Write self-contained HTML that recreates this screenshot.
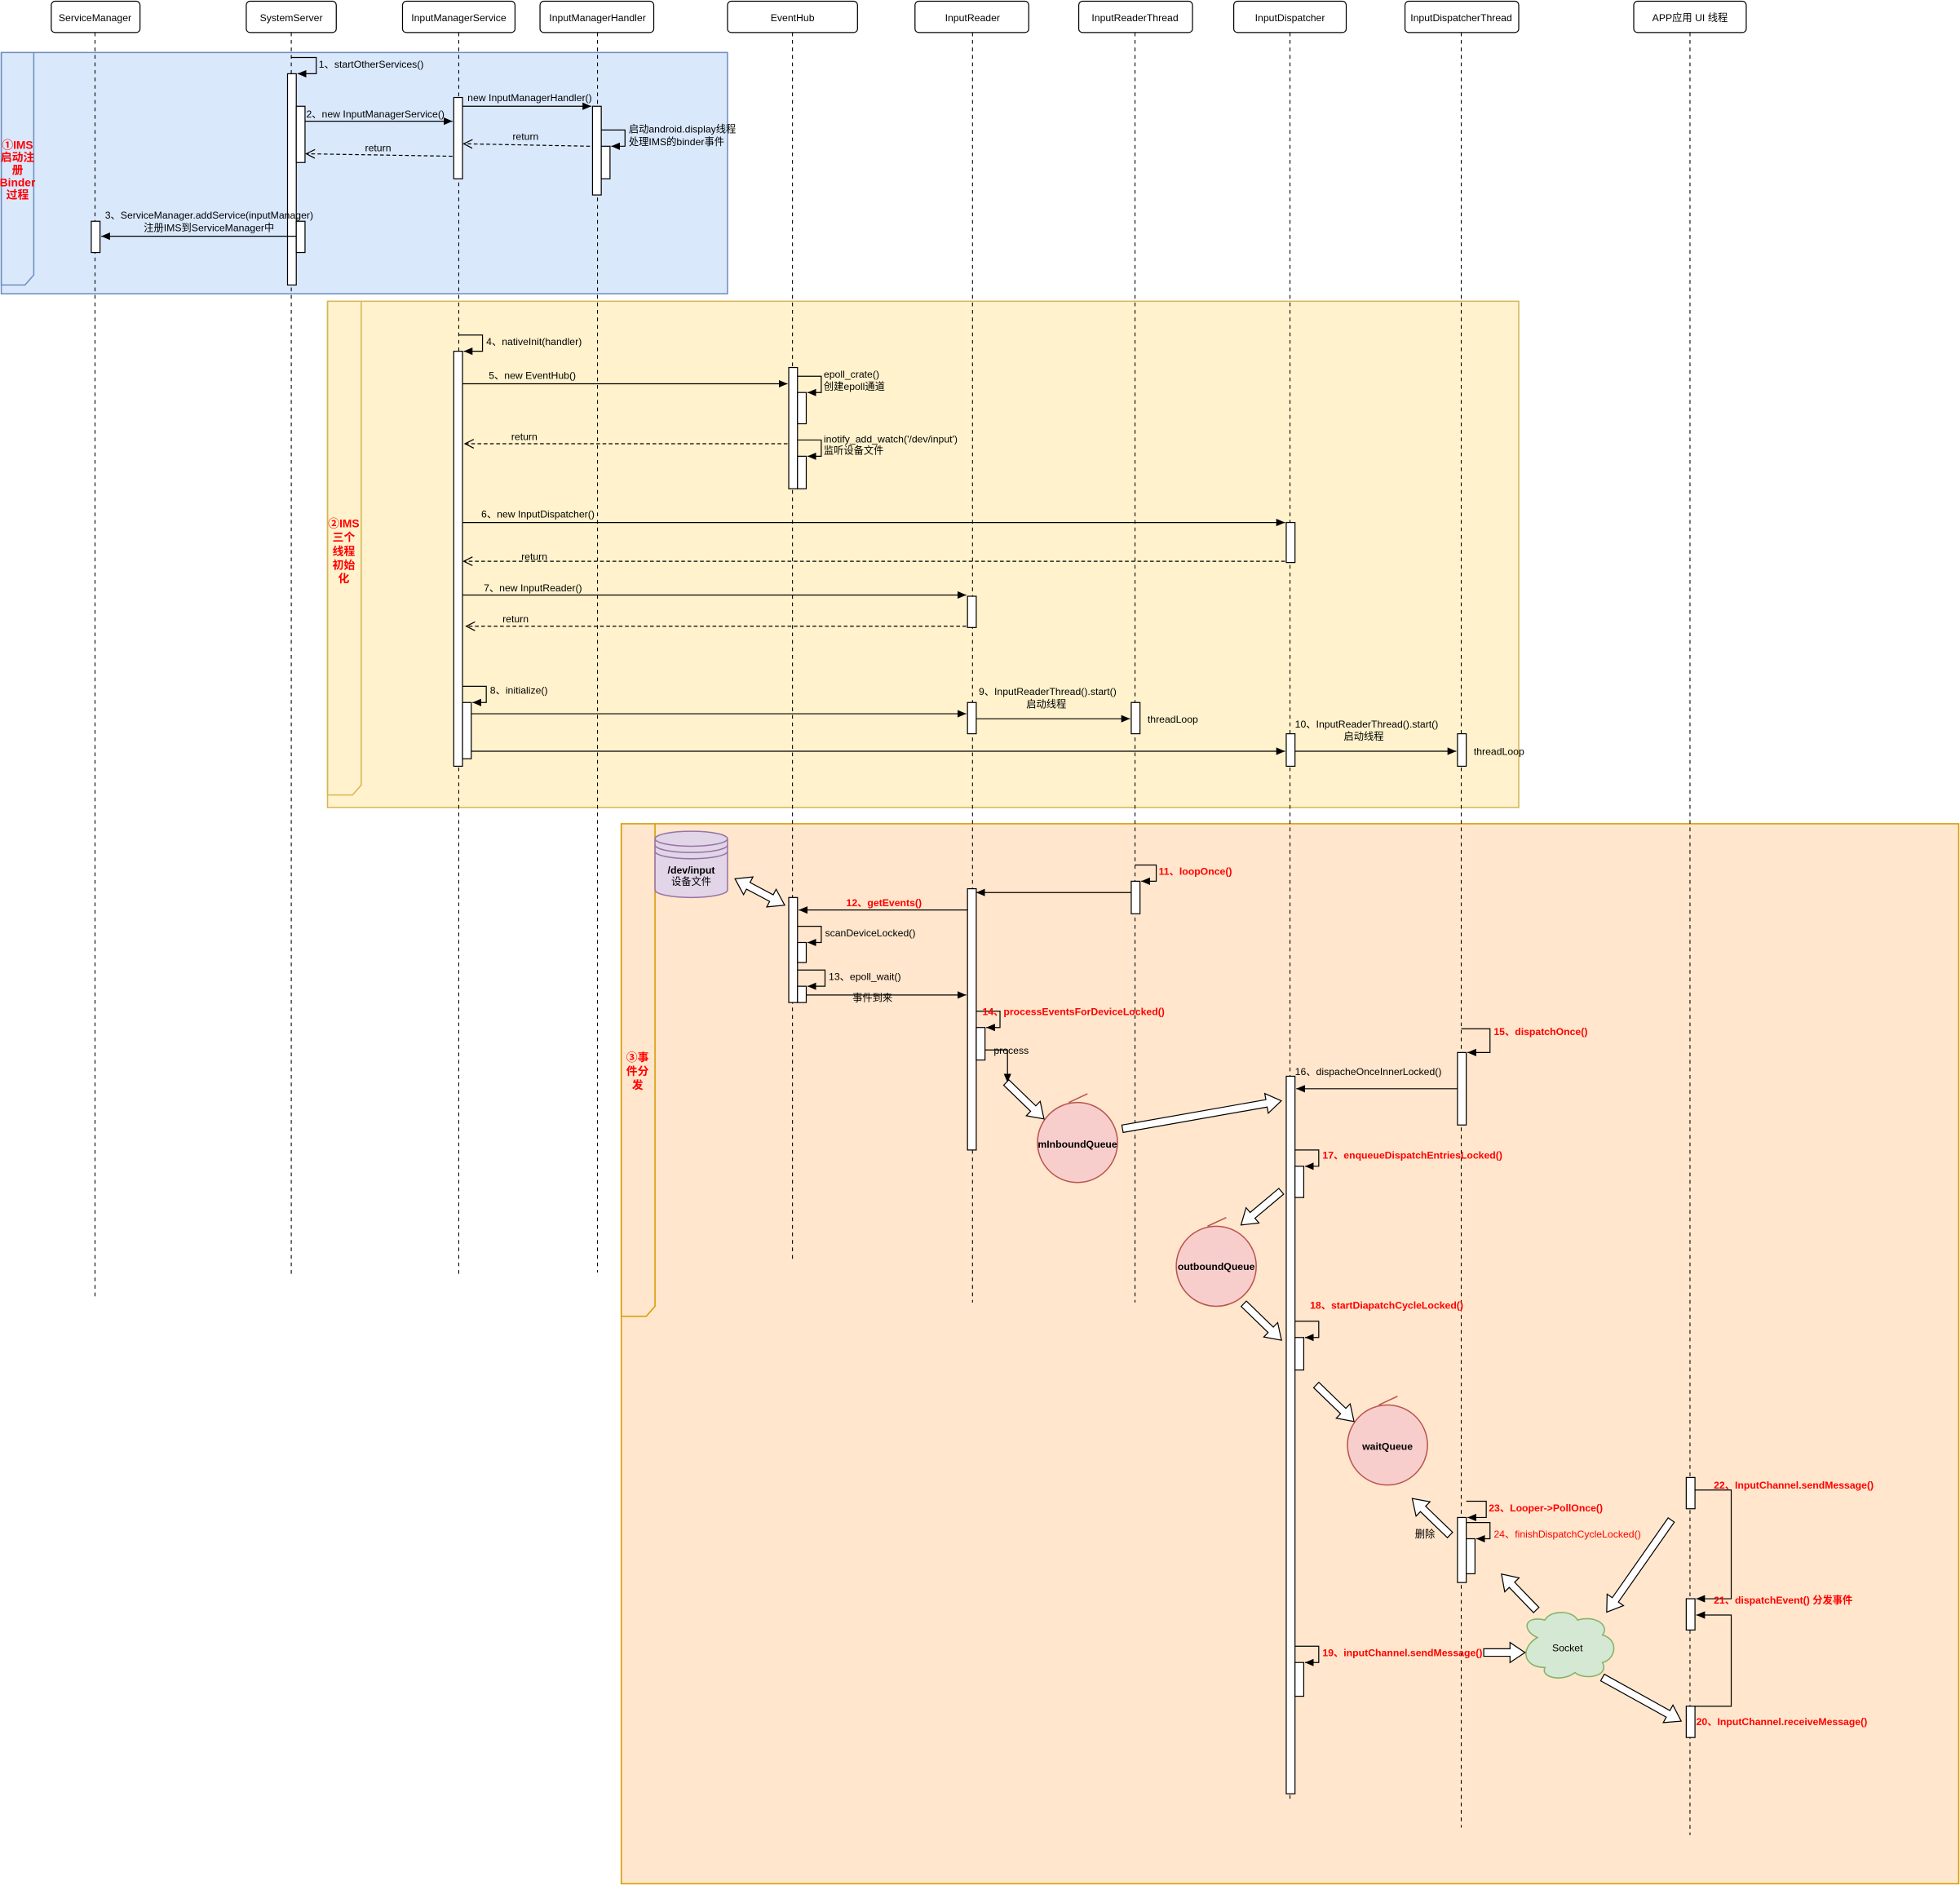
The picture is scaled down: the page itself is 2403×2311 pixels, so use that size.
<!DOCTYPE html>
<html><head><meta charset="utf-8"><style>html,body{margin:0;padding:0;background:#fff}svg{display:block}</style></head>
<body>
<svg xmlns="http://www.w3.org/2000/svg" width="2403" height="2311" viewBox="0 0 1568 1508" font-family="Liberation Sans, Noto Sans CJK SC, sans-serif" font-size="8">
<defs>
<marker id="a" markerWidth="8" markerHeight="8" refX="7" refY="4" orient="auto" markerUnits="userSpaceOnUse"><path d="M0,1 L7,4 L0,7 Z" fill="#000"/></marker>
<marker id="o" markerWidth="8" markerHeight="8" refX="7" refY="4" orient="auto" markerUnits="userSpaceOnUse"><path d="M0,0.5 L7,4 L0,7.5" fill="none" stroke="#000" stroke-width="0.8"/></marker>
</defs>
<rect width="1568" height="1508" fill="#fff"/>
<rect x="1" y="42" width="581" height="193" fill="#dae8fc" stroke="#6c8ebf"/>
<path d="M1,42 V228 H20 L27,220 V42" fill="none" stroke="#6c8ebf"/>
<rect x="262" y="241" width="953" height="405" fill="#fff2cc" stroke="#d6b656"/>
<path d="M262,241 V636 H282 L289,628 V241" fill="none" stroke="#d6b656"/>
<rect x="497" y="659" width="1070" height="848" fill="#ffe6cc" stroke="#d79b00"/>
<path d="M497,659 V1053 H517 L524,1045 V659" fill="none" stroke="#d79b00"/>
<g fill="#f00" font-weight="bold" font-size="9" text-anchor="middle">
<text x="14" y="119">①IMS</text><text x="14" y="129">启动注</text><text x="14" y="139">册</text><text x="14" y="149">Binder</text><text x="14" y="159">过程</text>
<text x="275" y="422">②IMS</text><text x="275" y="433">三个</text><text x="275" y="444">线程</text><text x="275" y="455">初始</text><text x="275" y="466">化</text>
<text x="510" y="849">③事</text><text x="510" y="860">件分</text><text x="510" y="871">发</text>
</g>
<g stroke="#000" stroke-width="0.7" stroke-dasharray="3,3">
<line x1="76" y1="26" x2="76" y2="1038"/><line x1="233" y1="26" x2="233" y2="1022"/><line x1="367" y1="26" x2="367" y2="1022"/><line x1="478" y1="26" x2="478" y2="1018"/><line x1="634" y1="26" x2="634" y2="1010"/><line x1="778" y1="26" x2="778" y2="1042"/><line x1="908" y1="26" x2="908" y2="1042"/><line x1="1032" y1="26" x2="1032" y2="1440"/><line x1="1169" y1="26" x2="1169" y2="1462"/><line x1="1352" y1="26" x2="1352" y2="1468"/>
</g>
<g fill="#fff" stroke="#000" stroke-width="0.8">
<rect x="41" y="1" width="71" height="25" rx="3"/><rect x="197" y="1" width="72" height="25" rx="3"/><rect x="322" y="1" width="90" height="25" rx="3"/><rect x="432" y="1" width="91" height="25" rx="3"/><rect x="582" y="1" width="104" height="25" rx="3"/><rect x="732" y="1" width="91" height="25" rx="3"/><rect x="863" y="1" width="91" height="25" rx="3"/><rect x="987" y="1" width="90" height="25" rx="3"/><rect x="1124" y="1" width="91" height="25" rx="3"/><rect x="1307" y="1" width="90" height="25" rx="3"/>
</g>
<g text-anchor="middle">
<text x="76" y="17">ServiceManager</text><text x="233" y="17">SystemServer</text><text x="367" y="17">InputManagerService</text><text x="478" y="17">InputManagerHandler</text><text x="634" y="17">EventHub</text><text x="778" y="17">InputReader</text><text x="908" y="17">InputReaderThread</text><text x="1032" y="17">InputDispatcher</text><text x="1169" y="17">InputDispatcherThread</text><text x="1352" y="17">APP应用 UI 线程</text>
</g>
<g fill="#fff" stroke="#000" stroke-width="0.8">
<rect x="230" y="59" width="7" height="169"/><rect x="237" y="85" width="7" height="45"/><rect x="237" y="177" width="7" height="25"/>
<rect x="73" y="177" width="7" height="25"/>
<rect x="363" y="78" width="7" height="65"/>
<rect x="474" y="85" width="7" height="71"/><rect x="481" y="117" width="7" height="26"/>
<rect x="363" y="281" width="7" height="332"/><rect x="370" y="562" width="7" height="45"/>
<rect x="631" y="294" width="7" height="97"/><rect x="638" y="314" width="7" height="25"/><rect x="638" y="365" width="7" height="26"/>
<rect x="1029" y="418" width="7" height="32"/>
<rect x="774" y="477" width="7" height="25"/><rect x="774" y="562" width="7" height="25"/>
<rect x="905" y="562" width="7" height="25"/><rect x="1029" y="587" width="7" height="26"/><rect x="1166" y="587" width="7" height="26"/>
<rect x="631" y="718" width="7" height="84"/><rect x="638" y="754" width="7" height="16"/><rect x="638" y="789" width="7" height="13"/>
<rect x="774" y="711" width="7" height="209"/><rect x="781" y="822" width="7" height="26"/>
<rect x="905" y="705" width="7" height="26"/>
<rect x="1166" y="842" width="7" height="58"/>
<rect x="1029" y="861" width="7" height="574"/><rect x="1036" y="933" width="7" height="25"/><rect x="1036" y="1070" width="7" height="26"/><rect x="1036" y="1330" width="7" height="27"/>
<rect x="1166" y="1214" width="7" height="52"/><rect x="1173" y="1231" width="7" height="28"/>
<rect x="1349" y="1182" width="7" height="25"/><rect x="1349" y="1279" width="7" height="25"/><rect x="1349" y="1365" width="7" height="25"/>
</g>
<g stroke="#000" stroke-width="0.8" fill="none">
<path d="M233,46 H253 V59 H238" marker-end="url(#a)"/>
<path d="M244,97 H362" marker-end="url(#a)"/>
<path d="M370,85 H473" marker-end="url(#a)"/>
<path d="M481,104 H500 V117 H489" marker-end="url(#a)"/>
<path d="M472,117 L371,115" stroke-dasharray="3,2" marker-end="url(#o)"/>
<path d="M362,125 L245,123" stroke-dasharray="3,2" marker-end="url(#o)"/>
<path d="M237,189 H81" marker-end="url(#a)"/>
<path d="M367,268 H386 V281 H371" marker-end="url(#a)"/>
<path d="M370,307 H630" marker-end="url(#a)"/>
<path d="M638,301 H657 V314 H646" marker-end="url(#a)"/>
<path d="M638,352 H657 V365 H646" marker-end="url(#a)"/>
<path d="M630,355 H372" stroke-dasharray="3,2" marker-end="url(#o)"/>
<path d="M370,418 H1028" marker-end="url(#a)"/>
<path d="M1028,449 H371" stroke-dasharray="3,2" marker-end="url(#o)"/>
<path d="M370,476 H773" marker-end="url(#a)"/>
<path d="M773,501 H373" stroke-dasharray="3,2" marker-end="url(#o)"/>
<path d="M370,549 H389 V562 H378" marker-end="url(#a)"/>
<path d="M377,571 H773" marker-end="url(#a)"/>
<path d="M781,575 H904" marker-end="url(#a)"/>
<path d="M377,601 H1028" marker-end="url(#a)"/>
<path d="M1036,601 H1165" marker-end="url(#a)"/>
<path d="M908,692 H925 V705 H913" marker-end="url(#a)"/>
<path d="M905,714 H781" marker-end="url(#a)"/>
<path d="M774,728 H639" marker-end="url(#a)"/>
<path d="M638,741 H657 V754 H646" marker-end="url(#a)"/>
<path d="M638,776 H660 V789 H646" marker-end="url(#a)"/>
<path d="M645,796 H773" marker-end="url(#a)"/>
<path d="M781,809 H800 V822 H789" marker-end="url(#a)"/>
<path d="M788,840 H806 V866" marker-end="url(#a)"/>
<path d="M1169,823 H1192 V842 H1174" marker-end="url(#a)"/>
<path d="M1166,871 H1037" marker-end="url(#a)"/>
<path d="M1036,920 H1055 V933 H1044" marker-end="url(#a)"/>
<path d="M1036,1057 H1055 V1070 H1044" marker-end="url(#a)"/>
<path d="M1036,1317 H1055 V1330 H1044" marker-end="url(#a)"/>
<path d="M1173,1201 H1189 V1214 H1174" marker-end="url(#a)"/>
<path d="M1173,1218 H1192 V1231 H1181" marker-end="url(#a)"/>
<path d="M1356,1192 H1385 V1279 H1357" marker-end="url(#a)"/>
<path d="M1356,1365 H1385 V1292 H1357" marker-end="url(#a)"/>
</g>
<g>
<text x="255" y="54">1、startOtherServices()</text>
<text x="245" y="94">2、new InputManagerService()</text>
<text x="374" y="81">new InputManagerHandler()</text>
<text x="503" y="106">启动android.display线程</text><text x="503" y="116">处理IMS的binder事件</text>
<text x="410" y="112">return</text><text x="292" y="121">return</text>
<text x="84" y="175">3、ServiceManager.addService(inputManager)</text><text x="115" y="185">注册IMS到ServiceManager中</text>
<text x="389" y="276">4、nativeInit(handler)</text>
<text x="391" y="303">5、new EventHub()</text>
<text x="659" y="302">epoll_crate()</text><text x="659" y="312">创建epoll通道</text>
<text x="659" y="354">inotify_add_watch('/dev/input')</text><text x="659" y="363">监听设备文件</text>
<text x="409" y="352">return</text>
<text x="385" y="414">6、new InputDispatcher()</text><text x="417" y="448">return</text>
<text x="387" y="473">7、new InputReader()</text><text x="402" y="498">return</text>
<text x="392" y="555">8、initialize()</text>
<text x="783" y="556">9、InputReaderThread().start()</text><text x="821" y="566">启动线程</text>
<text x="918" y="578">threadLoop</text>
<text x="1036" y="582">10、InputReaderThread().start()</text><text x="1075" y="592">启动线程</text>
<text x="1179" y="604">threadLoop</text>
<text x="660" y="749">scanDeviceLocked()</text>
<text x="663" y="784">13、epoll_wait()</text>
<text x="682" y="801">事件到来</text>
<text x="795" y="843">process</text>
<text x="1036" y="860">16、dispacheOnceInnerLocked()</text>
<text x="1132" y="1230">删除</text>
</g>
<g fill="#f00" font-weight="bold">
<text x="927" y="700">11、loopOnce()</text>
<text x="677" y="725">12、getEvents()</text>
<text x="786" y="812">14、processEventsForDeviceLocked()</text>
<text x="1195" y="828">15、dispatchOnce()</text>
<text x="1058" y="927">17、enqueueDispatchEntriesLocked()</text>
<text x="1048" y="1047">18、startDiapatchCycleLocked()</text>
<text x="1058" y="1325">19、inputChannel.sendMessage()</text>
<text x="1191" y="1209">23、Looper-&gt;PollOnce()</text>
<text x="1371" y="1191">22、InputChannel.sendMessage()</text>
<text x="1371" y="1283">21、dispatchEvent() 分发事件</text>
<text x="1357" y="1380">20、InputChannel.receiveMessage()</text>
</g>
<text x="1195" y="1230" fill="#f00">24、finishDispatchCycleLocked()</text>
<path d="M524,671 V712 A29,6 0 0 0 582,712 V671" fill="#e1d5e7" stroke="#9673a6"/>
<ellipse cx="553" cy="671" rx="29" ry="6" fill="#e1d5e7" stroke="#9673a6"/>
<path d="M524,676 A29,6 0 0 0 582,676 M524,681 A29,6 0 0 0 582,681" fill="none" stroke="#9673a6"/>
<text x="553" y="699" text-anchor="middle" font-weight="bold">/dev/input</text><text x="553" y="708" text-anchor="middle">设备文件</text>
<g fill="#f8cecc" stroke="#b85450">
<circle cx="862" cy="914" r="32"/><line x1="855" y1="882" x2="870" y2="875"/>
<circle cx="973" cy="1013" r="32"/><line x1="966" y1="981" x2="981" y2="974"/>
<circle cx="1110" cy="1156" r="32"/><line x1="1103" y1="1124" x2="1118" y2="1117"/>
</g>
<g font-weight="bold" text-anchor="middle">
<text x="862" y="918">mInboundQueue</text><text x="973" y="1016">outboundQueue</text><text x="1110" y="1160">waitQueue</text>
</g>
<path d="M1230,1310 C1218,1305 1218,1292 1236,1296 C1240,1288 1258,1288 1262,1296 C1276,1292 1288,1300 1282,1308 C1296,1312 1292,1328 1282,1330 C1288,1342 1266,1344 1260,1338 C1250,1346 1232,1342 1236,1334 C1218,1334 1216,1318 1230,1310 Z" fill="#d5e8d4" stroke="#82b366"/>
<text x="1254" y="1321" text-anchor="middle">Socket</text>
<g fill="#fff" stroke="#000" stroke-width="0.8">
<path transform="translate(805,866) rotate(44)" d="M0,-3 L30,-3 L30,-8 L42,0 L30,8 L30,3 L0,3 Z"/>
<path transform="translate(898,903) rotate(-10)" d="M0,-3 L117,-3 L117,-8 L129,0 L117,8 L117,3 L0,3 Z"/>
<path transform="translate(1025,953) rotate(140)" d="M0,-3 L30,-3 L30,-8 L42,0 L30,8 L30,3 L0,3 Z"/>
<path transform="translate(995,1043) rotate(44)" d="M0,-3 L30,-3 L30,-8 L42,0 L30,8 L30,3 L0,3 Z"/>
<path transform="translate(1053,1108) rotate(44)" d="M0,-3 L30,-3 L30,-8 L42,0 L30,8 L30,3 L0,3 Z"/>
<path transform="translate(1160,1228) rotate(-136)" d="M0,-3 L30,-3 L30,-8 L42,0 L30,8 L30,3 L0,3 Z"/>
<path transform="translate(1337,1216) rotate(125)" d="M0,-3 L78,-3 L78,-8 L90,0 L78,8 L78,3 L0,3 Z"/>
<path transform="translate(1229,1288) rotate(-134)" d="M0,-3 L28,-3 L28,-8 L40,0 L28,8 L28,3 L0,3 Z"/>
<path transform="translate(1187,1322)" d="M0,-3 L21,-3 L21,-8 L33,0 L21,8 L21,3 L0,3 Z"/>
<path transform="translate(1282,1342) rotate(29)" d="M0,-3 L60,-3 L60,-8 L72,0 L60,8 L60,3 L0,3 Z"/>
<path transform="translate(588,703) rotate(28)" d="M0,0 L12,-8 L12,-3 L33,-3 L33,-8 L45,0 L33,8 L33,3 L12,3 L12,8 Z"/>
</g>
</svg>
</body></html>
